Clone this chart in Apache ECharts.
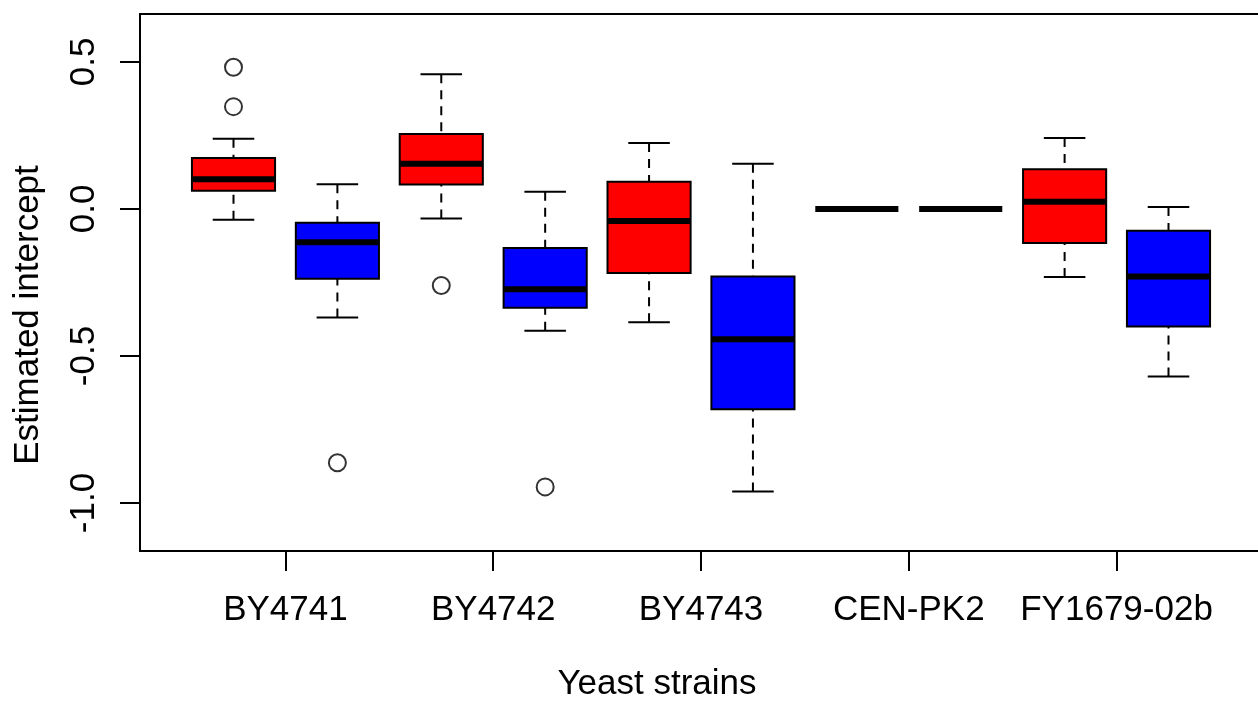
<!DOCTYPE html>
<html>
<head>
<meta charset="utf-8">
<title>Estimated intercept by yeast strain</title>
<script src="https://cdn.jsdelivr.net/npm/echarts@6/dist/echarts.min.js"></script>
<style>
  html, body { margin: 0; padding: 0; background: #ffffff; }
  #chart { width: 1258px; height: 702px; }
</style>
</head>
<body>
<div id="chart"></div>
<script>
// Strains on the x axis; each strain has a red and a blue box side by side.
const strains = ['BY4741', 'BY4742', 'BY4743', 'CEN-PK2', 'FY1679-02b'];

// Box statistics per strain: [lower whisker, Q1, median, Q3, upper whisker]
const redStats = [
  [-0.037, 0.062, 0.101, 0.173, 0.239],
  [-0.032, 0.083, 0.154, 0.255, 0.458],
  [-0.385, -0.218, -0.041, 0.093, 0.224],
  [0, 0, 0, 0, 0],
  [-0.231, -0.116, 0.025, 0.135, 0.241]
];
const blueStats = [
  [-0.369, -0.237, -0.113, -0.047, 0.084],
  [-0.414, -0.336, -0.273, -0.133, 0.059],
  [-0.961, -0.681, -0.443, -0.230, 0.154],
  [0, 0, 0, 0, 0],
  [-0.570, -0.400, -0.230, -0.074, 0.007]
];

// Outliers: [strain index, value]
const redOutliers = [[0, 0.482], [0, 0.348], [1, -0.260]];
const blueOutliers = [[0, -0.863], [1, -0.945]];

// Axis ticks
const yTicks = [-1.0, -0.5, 0.0, 0.5];
const xTicks = [1.5, 3.5, 5.5, 7.5, 9.5];

const RED = '#ff0000';
const BLUE = '#0000ff';
const FONT = '"Liberation Sans", Arial, Helvetica, sans-serif';
const FONT_SIZE = 35;
const BOX_WIDTH = 0.8;

// Red box of strain i sits at x = 2i+1, blue box at x = 2i+2
const boxData = [];
strains.forEach((s, i) => {
  boxData.push([2 * i + 1].concat(redStats[i], [0]));
  boxData.push([2 * i + 2].concat(blueStats[i], [1]));
});
const outlierData = redOutliers.map(o => [2 * o[0] + 1, o[1]])
  .concat(blueOutliers.map(o => [2 * o[0] + 2, o[1]]));

function renderBox(params, api) {
  const x = api.value(0);
  const lo = api.value(1), q1 = api.value(2), med = api.value(3),
        q3 = api.value(4), hi = api.value(5);
  const fill = api.value(6) === 0 ? RED : BLUE;
  const w = api.size([BOX_WIDTH, 0])[0];
  const pLo = api.coord([x, lo]);
  const pQ1 = api.coord([x, q1]);
  const pMed = api.coord([x, med]);
  const pQ3 = api.coord([x, q3]);
  const pHi = api.coord([x, hi]);
  const cx = pMed[0];
  const half = w / 2, cap = w / 4;
  const whisker = { stroke: '#000', lineWidth: 2, lineDash: [9, 7] };
  const solid = { stroke: '#000', lineWidth: 2 };
  const children = [];
  if (hi !== q3) {
    children.push({ type: 'line', shape: { x1: cx, y1: pHi[1], x2: cx, y2: pQ3[1] }, style: whisker });
  }
  if (lo !== q1) {
    children.push({ type: 'line', shape: { x1: cx, y1: pLo[1], x2: cx, y2: pQ1[1] }, style: whisker });
  }
  if (hi !== lo) {
    children.push({ type: 'line', shape: { x1: cx - cap, y1: pHi[1], x2: cx + cap, y2: pHi[1] }, style: solid });
    children.push({ type: 'line', shape: { x1: cx - cap, y1: pLo[1], x2: cx + cap, y2: pLo[1] }, style: solid });
  }
  if (q3 !== q1) {
    children.push({
      type: 'rect',
      shape: { x: cx - half, y: pQ3[1], width: w, height: pQ1[1] - pQ3[1] },
      style: { fill: fill, stroke: '#000', lineWidth: 2 }
    });
  }
  children.push({
    type: 'line',
    shape: { x1: cx - half, y1: pMed[1], x2: cx + half, y2: pMed[1] },
    style: { stroke: '#000', lineWidth: 6, lineCap: 'butt' }
  });
  return { type: 'group', children: children };
}

const chart = echarts.init(document.getElementById('chart'), null, { renderer: 'canvas' });

chart.setOption({
  backgroundColor: '#ffffff',
  animation: false,
  grid: {
    left: 140, top: 14, right: -4, bottom: 151,
    show: true, borderColor: '#000', borderWidth: 2,
    containLabel: false, outerBoundsMode: 'none'
  },
  xAxis: {
    type: 'value', min: 0.1, max: 10.9,
    position: 'bottom',
    axisLine: { show: false, onZero: false },
    splitLine: { show: false },
    axisTick: {
      show: true, inside: false, length: 20, customValues: xTicks,
      lineStyle: { color: '#000', width: 2 }
    },
    axisLabel: {
      show: true, customValues: xTicks, margin: 42,
      color: '#000', fontSize: FONT_SIZE, fontFamily: FONT,
      formatter: v => strains[Math.round((v - 1.5) / 2)]
    }
  },
  yAxis: {
    type: 'value', min: -1.163, max: 0.663,
    position: 'left',
    axisLine: { show: false, onZero: false },
    splitLine: { show: false },
    axisTick: {
      show: true, inside: false, length: 20, customValues: yTicks,
      lineStyle: { color: '#000', width: 2 }
    },
    axisLabel: {
      show: true, customValues: yTicks, margin: 38, rotate: 90,
      color: '#000', fontSize: FONT_SIZE, fontFamily: FONT,
      formatter: v => v.toFixed(1)
    }
  },
  graphic: [
    {
      type: 'text', x: 28, y: 315, rotation: Math.PI / 2,
      style: {
        text: 'Estimated intercept', fill: '#000',
        font: FONT_SIZE + 'px ' + FONT, textAlign: 'center', textVerticalAlign: 'middle'
      }
    },
    {
      type: 'text', x: 657, y: 684,
      style: {
        text: 'Yeast strains', fill: '#000',
        font: FONT_SIZE + 'px ' + FONT, textAlign: 'center', textVerticalAlign: 'middle'
      }
    }
  ],
  series: [
    {
      type: 'custom',
      renderItem: renderBox,
      data: boxData,
      encode: { x: 0, y: [1, 2, 3, 4, 5] },
      clip: false
    },
    {
      type: 'scatter',
      data: outlierData,
      symbol: 'circle',
      symbolSize: 17,
      itemStyle: { color: '#ffffff', borderColor: '#000', borderWidth: 2 },
      z: 3
    }
  ]
});
</script>
</body>
</html>
